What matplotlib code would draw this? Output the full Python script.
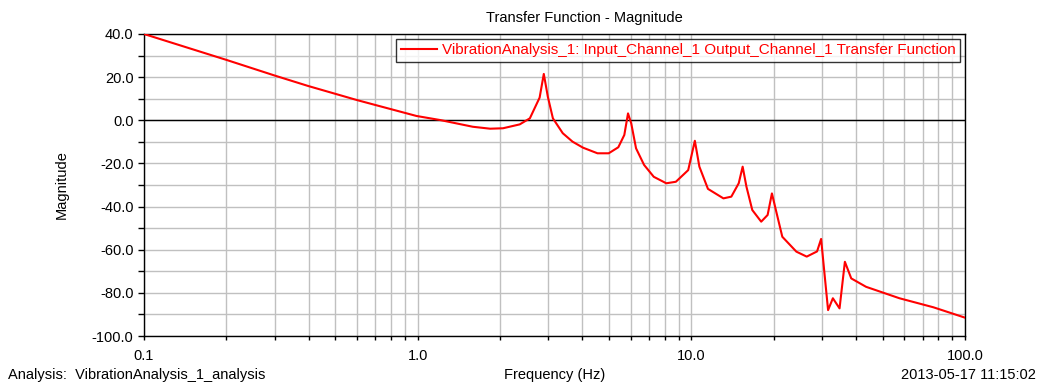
import numpy as np
import matplotlib
matplotlib.use("Agg")
import matplotlib.pyplot as plt
from matplotlib.ticker import FixedLocator, LogLocator, NullFormatter, FormatStrFormatter

plt.rcParams["font.family"] = ["Liberation Sans", "DejaVu Sans"]

# ---- DATA ----
freq = [0.1, 0.2, 0.301, 0.398, 0.599, 0.70, 0.99, 1.21, 1.59, 1.84, 2.05, 2.36,
        2.57, 2.79, 2.89, 2.99, 3.12, 3.39, 3.68, 4.02, 4.54, 4.99, 5.41, 5.69,
        5.87, 6.03, 6.28, 6.72, 7.29, 8.10, 8.78, 9.74, 10.3, 10.7, 11.5, 13.1,
        14.0, 14.9, 15.4, 15.9, 16.7, 18.0, 19.0, 19.7, 20.5, 21.5, 24.2, 26.4,
        28.8, 29.8, 30.4, 31.6, 32.9, 34.8, 36.4, 38.4, 43.5, 57.6, 76.7, 100]
mag = [40, 28.0, 20.7, 15.9, 9.4, 7.1, 2.0, 0.1, -3.0, -3.9, -3.7, -1.9,
       0.9, 10.5, 21.5, 10.9, 0.9, -6.0, -9.9, -12.7, -15.3, -15.3, -12.5, -6.8,
       3.2, -1.4, -13.0, -20.7, -26.2, -29.2, -28.5, -23.1, -9.5, -21.5, -31.8, -36.2,
       -35.4, -29.2, -21.5, -30.8, -41.6, -47.0, -43.9, -33.9, -43.1, -54.0, -60.9, -63.2,
       -60.8, -55.0, -66.3, -88.0, -82.5, -87.2, -65.6, -73.3, -77.2, -82.5, -86.7, -91.5]

x_ticks = [0.1, 1.0, 10.0, 100.0]
y_ticks = [-100, -80, -60, -40, -20, 0, 20, 40]
y_minor = [-90, -70, -50, -30, -10, 10, 30]

series_label = "VibrationAnalysis_1: Input_Channel_1 Output_Channel_1 Transfer Function"
fs = 10.5

fig = plt.figure(figsize=(10.41, 3.85), dpi=100)
ax = fig.add_axes([144 / 1041, 1 - 336 / 385, (965 - 144) / 1041, (336 - 34) / 385])

ax.set_xscale("log")
ax.set_xlim(0.1, 100)
ax.set_ylim(-100, 40)

ax.xaxis.set_major_locator(FixedLocator(x_ticks))
ax.xaxis.set_major_formatter(FormatStrFormatter("%.1f"))
ax.xaxis.set_minor_locator(LogLocator(base=10, subs=np.arange(2, 10)))
ax.xaxis.set_minor_formatter(NullFormatter())
ax.yaxis.set_major_locator(FixedLocator(y_ticks))
ax.yaxis.set_minor_locator(FixedLocator(y_minor))
ax.yaxis.set_major_formatter(FormatStrFormatter("%.1f"))

ax.grid(True, which="both", color="#c0c0c0", linewidth=1.0)
ax.set_axisbelow(True)
ax.axhline(0, color="black", linewidth=1.0, zorder=2)

ax.tick_params(which="both", direction="out", length=4, width=1, labelsize=fs, colors="black")
ax.tick_params(axis="x", which="both", length=3, pad=6)
for s in ax.spines.values():
    s.set_color("black")
    s.set_linewidth(1.0)

ax.plot(freq, mag, color="red", linewidth=1.5, label=series_label, zorder=3)

leg = ax.legend(loc="upper right", fontsize=11, frameon=True, fancybox=False,
                edgecolor="black", handlelength=2.4, handletextpad=0.3,
                borderaxespad=0.3, borderpad=0.3)
leg.get_frame().set_linewidth(1.0)
for t in leg.get_texts():
    t.set_color("red")

fig.text(584 / 1041, 1 - 18 / 385, "Transfer Function - Magnitude", ha="center", va="center", fontsize=fs)
fig.text(555 / 1041, 1 - 375 / 385, "Frequency (Hz)", ha="center", va="center", fontsize=fs)
fig.text(62 / 1041, 1 - 185 / 385, "Magnitude", ha="center", va="center", rotation=90, fontsize=fs)
fig.text(8 / 1041, 1 - 375 / 385, "Analysis:  VibrationAnalysis_1_analysis", ha="left", va="center", fontsize=fs)
fig.text(1036 / 1041, 1 - 375 / 385, "2013-05-17 11:15:02", ha="right", va="center", fontsize=fs)

fig.savefig("out.png", dpi=100)
